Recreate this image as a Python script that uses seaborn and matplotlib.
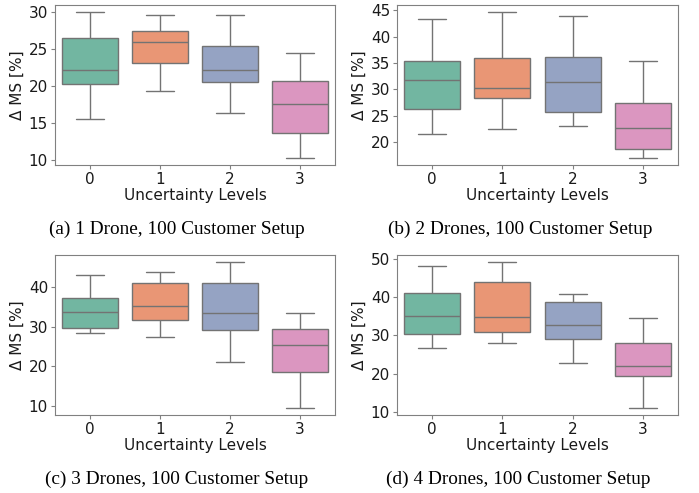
import numpy as np
import pandas as pd
import matplotlib
matplotlib.use("Agg")
import matplotlib.pyplot as plt
from matplotlib.ticker import MultipleLocator
import seaborn as sns

levels = [0, 1, 2, 3]
# five-number summaries per uncertainty level: [low whisker, Q1, median, Q3, high whisker]
setup1 = [[15.6, 20.3, 22.2, 26.45, 30.0],
          [19.35, 23.1, 25.95, 27.4, 29.6],
          [16.3, 20.5, 22.15, 25.4, 29.6],
          [10.3, 13.6, 17.55, 20.75, 24.45]]
setup2 = [[21.45, 26.2, 31.75, 35.3, 43.35],
          [22.5, 28.4, 30.25, 36.0, 44.6],
          [23.05, 25.75, 31.4, 36.1, 43.9],
          [17.05, 18.65, 22.7, 27.35, 35.3]]
setup3 = [[28.3, 29.65, 33.65, 37.15, 43.0],
          [27.3, 31.55, 35.05, 41.0, 43.6],
          [21.0, 29.05, 33.3, 41.0, 46.1],
          [9.65, 18.5, 25.3, 29.3, 33.4]]
setup4 = [[26.8, 30.35, 35.05, 41.1, 48.0],
          [28.0, 30.85, 34.7, 43.9, 49.05],
          [22.8, 29.1, 32.7, 38.8, 40.85],
          [11.1, 19.4, 22.0, 28.1, 34.5]]
captions = ["(a) 1 Drone, 100 Customer Setup",
            "(b) 2 Drones, 100 Customer Setup",
            "(c) 3 Drones, 100 Customer Setup",
            "(d) 4 Drones, 100 Customer Setup"]
ytick_steps = [5, 5, 10, 10]
ylabel = "Δ MS [%]"
xlabel = "Uncertainty Levels"

sns.set_style("white")
plt.rcParams.update({
    "axes.edgecolor": "0.5",
    "xtick.bottom": True, "ytick.left": True,
    "xtick.color": "0.5", "ytick.color": "0.5",
    "xtick.labelcolor": "0.1", "ytick.labelcolor": "0.1",
    "xtick.major.size": 3, "ytick.major.size": 3,
    "axes.labelcolor": "0.1",
    "font.size": 11,
})

W, H = 699, 493
fig = plt.figure(figsize=(W / 100, H / 100), dpi=100)

# axes boxes in pixels: left, top, right, bottom
boxes = [(55, 5, 335, 165), (397, 5, 678, 165),
         (55, 255, 335, 415), (397, 255, 678, 415)]
cap_pos = [(177, 229), (520, 229), (177, 479), (518, 479)]

for setup, box, cap, cp, step in zip([setup1, setup2, setup3, setup4], boxes,
                                     captions, cap_pos, ytick_steps):
    l, t, r, b = box
    ax = fig.add_axes([l / W, 1 - b / H, (r - l) / W, (b - t) / H])
    rows = []
    for lev, vals in zip(levels, setup):
        for v in vals:
            rows.append({"level": lev, "value": v})
    df = pd.DataFrame(rows)
    sns.boxplot(data=df, x="level", y="value", hue="level", palette="Set2",
                legend=False, ax=ax, whis=(0, 100), linewidth=1.0,
                linecolor="0.45")
    ax.yaxis.set_major_locator(MultipleLocator(step))
    ax.set_xlabel(xlabel, fontsize=11, labelpad=1)
    ax.set_ylabel(ylabel, fontsize=11, labelpad=3)
    ax.tick_params(labelsize=11, pad=2)
    fig.text(cp[0] / W, 1 - cp[1] / H, cap, ha="center", va="center",
             family="Liberation Serif", fontsize=13.9, color="black")

fig.savefig("out.png", dpi=100)
